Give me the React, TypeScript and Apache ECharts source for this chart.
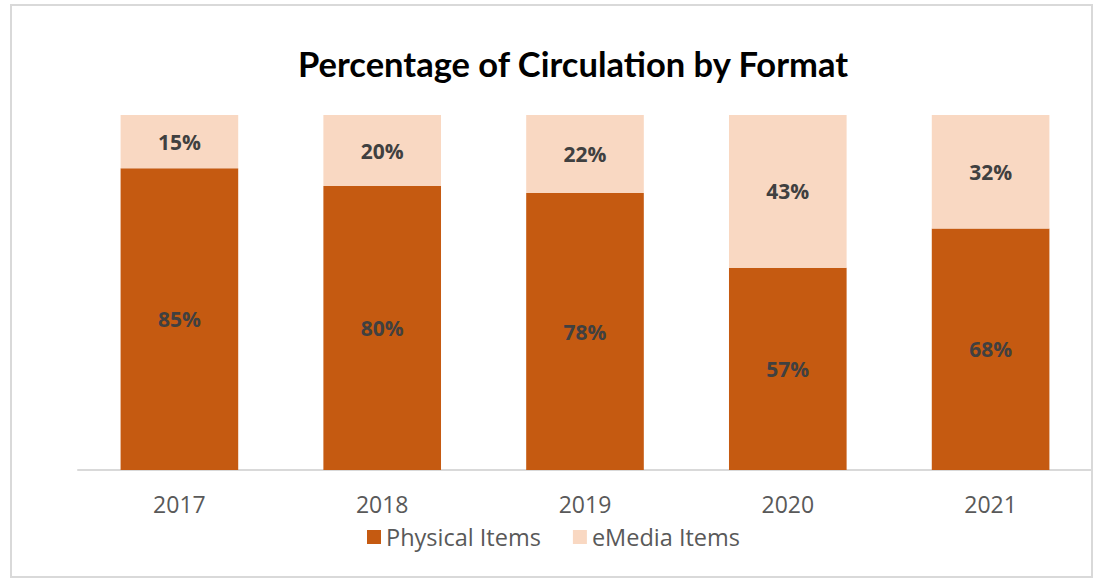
import React, { useEffect, useRef } from "react";
import * as echarts from "echarts";

const years = ["2017", "2018", "2019", "2020", "2021"];
const physical = [85, 80, 78, 57, 68];
const emedia = [15, 20, 22, 43, 32];
const title = "Percentage of Circulation by Format";

export default function App() {
  const ref = useRef<HTMLDivElement>(null);
  useEffect(() => {
    const chart = echarts.init(ref.current!, null, { renderer: "svg" });
    const titleFont = "Lato, 'Open Sans', sans-serif";
    const font = "'Open Sans', Lato, sans-serif";
    const label = {
      show: true,
      position: "inside",
      formatter: "{c}%",
      color: "#404040",
      fontSize: 21,
      fontWeight: "bold",
      fontFamily: font,
    };
    chart.setOption({
      animation: false,
      backgroundColor: "#ffffff",
      title: {
        text: title,
        left: 293,
        top: 41,
        textStyle: { fontSize: 34.5, fontWeight: "bold", color: "#000", fontFamily: titleFont },
      },
      graphic: [
        {
          type: "rect",
          shape: { x: 11, y: 5, width: 1081, height: 572 },
          style: { fill: "none", stroke: "#d9d9d9", lineWidth: 2 },
          silent: true,
        },
      ],
      legend: {
        bottom: 26,
        left: 362,
        itemWidth: 14,
        itemHeight: 14,
        itemGap: 32,
        icon: "rect",
        textStyle: { fontSize: 23.5, color: "#595959", fontFamily: font },
        data: ["Physical Items", "eMedia Items"],
      },
      grid: { left: 78, right: 10, top: 115, bottom: 110, containLabel: false },
      xAxis: {
        type: "category",
        data: years,
        axisLine: { lineStyle: { color: "#d9d9d9", width: 2 } },
        axisTick: { show: false },
        axisLabel: { fontSize: 23, color: "#595959", margin: 22, fontFamily: font },
      },
      yAxis: { type: "value", min: 0, max: 100, show: false, splitLine: { show: false } },
      series: [
        {
          name: "Physical Items",
          type: "bar",
          stack: "a",
          data: physical,
          barWidth: "58%",
          itemStyle: { color: "#C55A11" },
          label,
        },
        {
          name: "eMedia Items",
          type: "bar",
          stack: "a",
          data: emedia,
          barWidth: "58%",
          itemStyle: { color: "#F9D8C2" },
          label,
        },
      ],
    });
    return () => chart.dispose();
  }, []);
  return <div ref={ref} style={{ position: "absolute", left: 0, top: 0, width: 1102, height: 580 }} />;
}
